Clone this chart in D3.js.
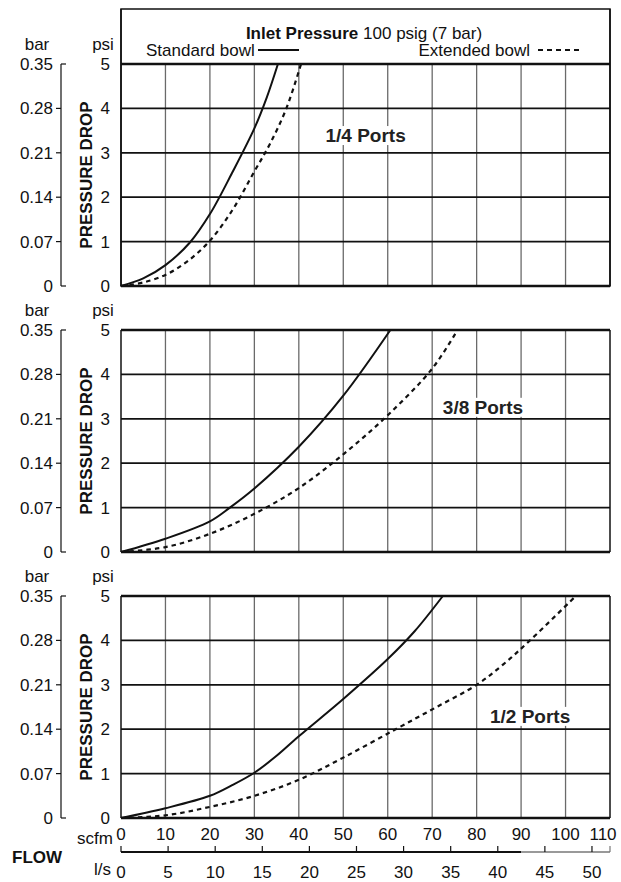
<!DOCTYPE html>
<html>
<head>
<meta charset="utf-8">
<script src="https://cdn.jsdelivr.net/npm/d3@7"></script>
<style>
  body { margin: 0; background: #fff; }
  svg { display: block; font-family: "Liberation Sans", Arial, sans-serif; }
</style>
</head>
<body>
<div id="chart"></div>
<script>
// Flow axis ticks
const scfmTicks = [0, 10, 20, 30, 40, 50, 60, 70, 80, 90, 100, 110];
const lsTicks = [0, 5, 10, 15, 20, 25, 30, 35, 40, 45, 50];
const psiTicks = [0, 1, 2, 3, 4, 5];
const barTicks = ["0", "0.07", "0.14", "0.21", "0.28", "0.35"];
const portLabels = ["1/4 Ports", "3/8 Ports", "1/2 Ports"];

// [scfm, psi]
const std14 = [[0, 0], [5, 0.17], [10, 0.47], [15.5, 0.98], [20, 1.62], [25, 2.55],
               [30, 3.55], [32.8, 4.25], [35.3, 5.0]];
const ext14 = [[0, 0], [5, 0.08], [10, 0.25], [15, 0.56], [20, 1.02], [25, 1.7],
               [30, 2.58], [33.5, 3.2], [37.2, 4.0], [40.5, 5.0]];
const std38 = [[0, 0], [10, 0.30], [20, 0.69], [24.5, 1.0], [30, 1.43], [40, 2.37],
               [50, 3.52], [60.6, 5.0]];
const ext38 = [[0, 0], [10, 0.11], [20, 0.41], [30, 0.86], [40, 1.44], [50, 2.2],
               [60, 3.08], [70, 4.13], [75.7, 5.0]];
const std12 = [[0, 0], [10, 0.22], [20, 0.5], [25, 0.74], [30, 1.02], [35, 1.4], [40, 1.84],
               [50, 2.68], [60, 3.58], [66, 4.2], [72.4, 5.0]];
const ext12 = [[0, 0], [10, 0.06], [20, 0.25], [30, 0.5], [40, 0.86], [50, 1.36],
               [61.8, 2.0], [71, 2.5], [80, 3.0], [86, 3.46], [92, 4.0], [102.3, 5.0]];

const width = 621, height = 882;
const left = 121, right = 610;
const panelTops = [64, 330, 596];
const panelH = 222;
// label anchor (scfm, psi) for each panel
const labelPos = [[46, 3.4], [72.4, 3.27], [83, 2.3]];
const series = [[std14, ext14], [std38, ext38], [std12, ext12]];

const svg = d3.select("#chart").append("svg")
    .attr("width", width)
    .attr("height", height);

const x = d3.scaleLinear().domain([0, 110]).range([left, right]);
const SCFM_PER_LS = 2.1189;

// outer frame of first panel (holds legend)
svg.append("rect")
    .attr("x", left).attr("y", 9)
    .attr("width", right - left).attr("height", panelTops[0] + panelH - 9)
    .attr("fill", "none").attr("stroke", "#111").attr("stroke-width", 1.5);

// legend
const leg = svg.append("text").attr("x", 364).attr("y", 39)
    .attr("text-anchor", "middle").attr("font-size", 17).attr("fill", "#111");
leg.append("tspan").attr("font-weight", "bold").text("Inlet Pressure");
leg.append("tspan").text(" 100 psig (7 bar)");

svg.append("text").attr("x", 146).attr("y", 56).attr("font-size", 17).attr("fill", "#111")
    .text("Standard bowl");
svg.append("line").attr("x1", 258).attr("x2", 299).attr("y1", 50).attr("y2", 50)
    .attr("stroke", "#111").attr("stroke-width", 2);
svg.append("text").attr("x", 530).attr("y", 56).attr("font-size", 17).attr("fill", "#111")
    .attr("text-anchor", "end").text("Extended bowl");
svg.append("line").attr("x1", 538).attr("x2", 580).attr("y1", 50).attr("y2", 50)
    .attr("stroke", "#111").attr("stroke-width", 2).attr("stroke-dasharray", "5,4");

panelTops.forEach((top, i) => {
  const y = d3.scaleLinear().domain([0, 5]).range([top + panelH, top]);
  const yBar = d3.scaleLinear().domain([0, 0.35]).range([top + panelH, top]);
  const g = svg.append("g");

  // vertical grid
  g.selectAll("line.v").data(scfmTicks.slice(1, -1)).join("line")
      .attr("x1", d => x(d)).attr("x2", d => x(d))
      .attr("y1", top).attr("y2", top + panelH)
      .attr("stroke", "#6a6a6a").attr("stroke-width", 1.3);

  // horizontal grid
  g.selectAll("line.h").data(psiTicks).join("line")
      .attr("x1", left).attr("x2", right)
      .attr("y1", d => y(d)).attr("y2", d => y(d))
      .attr("stroke", "#111")
      .attr("stroke-width", d => (d === 0 || d === 5) ? 2.6 : 1.8);

  // panel frame sides
  g.append("line").attr("x1", left).attr("x2", left)
      .attr("y1", i === 0 ? 9 : top).attr("y2", top + panelH)
      .attr("stroke", "#111").attr("stroke-width", 1.5);
  g.append("line").attr("x1", right).attr("x2", right)
      .attr("y1", i === 0 ? 9 : top).attr("y2", top + panelH)
      .attr("stroke", "#111").attr("stroke-width", 1.5);

  // port label with white backing
  const lab = g.append("text")
      .attr("x", x(labelPos[i][0])).attr("y", y(labelPos[i][1]) + 7)
      .attr("font-size", 19).attr("font-weight", "bold").attr("fill", "#222")
      .text(portLabels[i]);
  const bb = lab.node().getBBox();
  g.insert("rect", "text")
      .attr("x", bb.x - 2).attr("y", bb.y + 1)
      .attr("width", bb.width + 4).attr("height", bb.height - 2)
      .attr("fill", "#fff");

  // curves
  const line = d3.line()
      .x(d => x(d[0])).y(d => y(d[1]))
      .curve(d3.curveCatmullRom.alpha(0.5));
  g.append("path").datum(series[i][0])
      .attr("d", line).attr("fill", "none")
      .attr("stroke", "#111").attr("stroke-width", 2);
  g.append("path").datum(series[i][1])
      .attr("d", line).attr("fill", "none")
      .attr("stroke", "#111").attr("stroke-width", 2.2)
      .attr("stroke-dasharray", "4.5,4");

  // psi labels
  g.append("text").attr("x", 103).attr("y", top - 14).attr("text-anchor", "middle")
      .attr("font-size", 17).attr("fill", "#111").text("psi");
  g.selectAll("text.psi").data(psiTicks).join("text")
      .attr("x", 110).attr("y", d => y(d) + 6)
      .attr("text-anchor", "end").attr("font-size", 17).attr("fill", "#111")
      .text(d => d);

  // bar axis
  const bx = 61;
  g.append("text").attr("x", 37).attr("y", top - 14).attr("text-anchor", "middle")
      .attr("font-size", 17).attr("fill", "#111").text("bar");
  g.append("line").attr("x1", bx).attr("x2", bx)
      .attr("y1", top).attr("y2", top + panelH)
      .attr("stroke", "#111").attr("stroke-width", 1.2);
  g.selectAll("line.bt").data(barTicks).join("line")
      .attr("x1", (d, k) => (k === 0 || k === barTicks.length - 1) ? bx + 5 : bx - 5)
      .attr("x2", bx)
      .attr("y1", d => yBar(+d)).attr("y2", d => yBar(+d))
      .attr("stroke", "#111").attr("stroke-width", 1.2);
  g.selectAll("text.bar").data(barTicks).join("text")
      .attr("x", 53).attr("y", d => yBar(+d) + 6)
      .attr("text-anchor", "end").attr("font-size", 17).attr("fill", "#111")
      .text(d => d);

  // rotated title
  g.append("text")
      .attr("transform", `translate(92,${top + panelH / 2}) rotate(-90)`)
      .attr("text-anchor", "middle").attr("font-size", 17).attr("font-weight", "bold")
      .attr("fill", "#111").text("PRESSURE DROP");
});

// flow axes
svg.append("text").attr("x", 113).attr("y", 844).attr("text-anchor", "end")
    .attr("font-size", 17).attr("fill", "#111").text("scfm");
svg.selectAll("text.scfm").data(scfmTicks).join("text")
    .attr("x", d => Math.min(x(d), 603)).attr("y", 840)
    .attr("text-anchor", "middle").attr("font-size", 17).attr("fill", "#111")
    .text(d => d);

const axisY = 852;
const xl = v => x(v * SCFM_PER_LS);
svg.append("line").attr("x1", left).attr("x2", x(90)).attr("y1", axisY).attr("y2", axisY)
    .attr("stroke", "#111").attr("stroke-width", 2);
svg.append("line").attr("x1", x(90)).attr("x2", right).attr("y1", axisY).attr("y2", axisY)
    .attr("stroke", "#777").attr("stroke-width", 1.4);
svg.selectAll("line.ls").data(lsTicks).join("line")
    .attr("x1", d => xl(d)).attr("x2", d => xl(d))
    .attr("y1", axisY).attr("y2", axisY - 6)
    .attr("stroke", "#111").attr("stroke-width", 1.2);
svg.append("line").attr("x1", right).attr("x2", right).attr("y1", axisY).attr("y2", axisY - 6)
    .attr("stroke", "#777").attr("stroke-width", 1.2);
svg.selectAll("text.ls").data(lsTicks).join("text")
    .attr("x", d => xl(d)).attr("y", 878)
    .attr("text-anchor", "middle").attr("font-size", 17).attr("fill", "#111")
    .text(d => d);
svg.append("text").attr("x", 111).attr("y", 875).attr("text-anchor", "end")
    .attr("font-size", 17).attr("fill", "#111").text("l/s");
svg.append("text").attr("x", 12).attr("y", 863)
    .attr("font-size", 17).attr("font-weight", "bold").attr("fill", "#111").text("FLOW");
</script>
</body>
</html>
